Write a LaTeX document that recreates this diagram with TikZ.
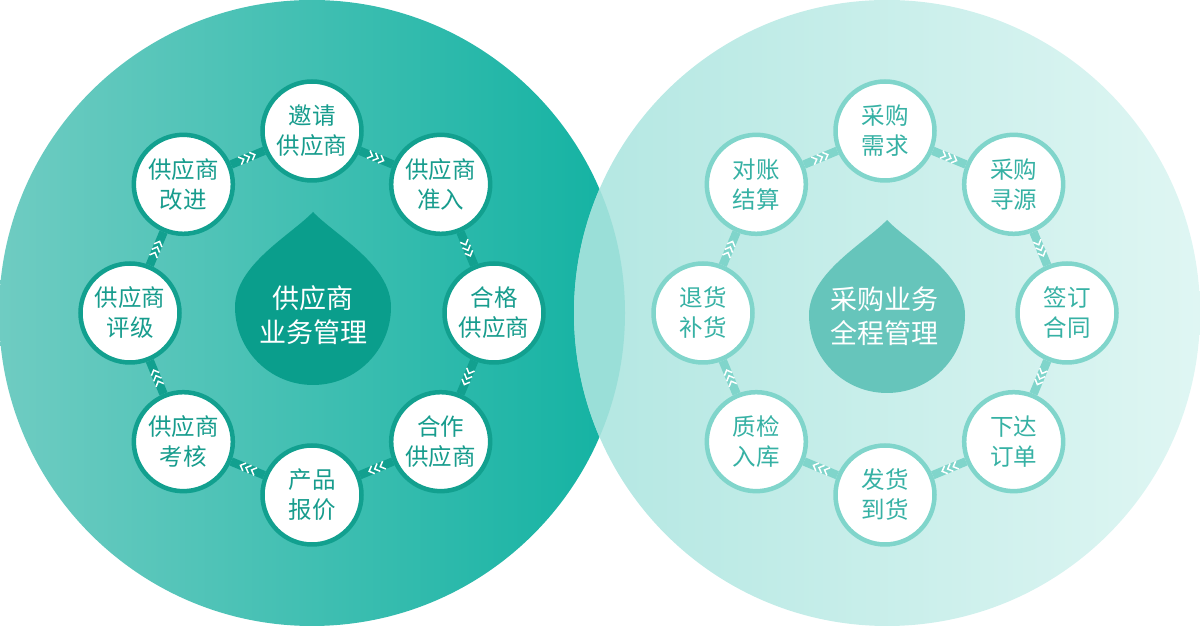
\documentclass[tikz,border=0pt]{standalone}
\usepackage{fontspec}
\usepackage{tikz}
\usetikzlibrary{calc,decorations.markings}
\newfontfamily\cjk{Noto Sans CJK SC}
\definecolor{lbgA}{HTML}{6FCCC2}
\definecolor{lbgB}{HTML}{12B2A2}
\definecolor{rbgA}{HTML}{B3E7E2}
\definecolor{rbgB}{HTML}{DFF6F3}
\definecolor{lens}{HTML}{9ADFD8}
\definecolor{ldrop}{HTML}{0A9E8C}
\definecolor{rdrop}{HTML}{66C5BB}
\definecolor{lline}{HTML}{12A08F}
\definecolor{ltext}{HTML}{179C8D}
\definecolor{rline}{HTML}{80D5CB}
\definecolor{rtext}{HTML}{36B1A4}
\tikzset{
  ring/.style={circle, line width=4.5pt, fill=white, minimum size=99pt,
               inner sep=0pt, align=center, font=\cjk\fontsize{23.5}{30}\selectfont},
  lstep/.style={ring, draw=lline, text=ltext},
  rstep/.style={ring, draw=rline, text=rtext},
  core/.style={align=center, text=white, font=\cjk\fontsize{27}{34}\selectfont},
  chev/.style={draw=white, line width=1.5pt},
  link/.style={line width=8.5pt, postaction={decorate},
               decoration={markings, mark=at position 0.5 with
                 {\foreach \k in {-6,0,6} \draw[chev] (\k-2.5,4.2)--(\k+1.8,0)--(\k-2.5,-4.2);}}},
  llink/.style={link, draw=lline},
  rlink/.style={link, draw=rline}
}
\newcommand{\dropshape}{(0,95) .. controls (22,72) and (78,42) .. (78,0)
  arc[start angle=0, end angle=-180, radius=78] .. controls (-78,42) and (-22,72) .. (0,95) -- cycle}

\begin{document}
\begin{tikzpicture}[x=1pt, y=1pt]
  \useasboundingbox (0,0) rectangle (1200,626);
  % two big discs and their overlap
  \shade[left color=lbgA, right color=lbgB] (312,313) circle[radius=313];
  \shade[left color=rbgA, right color=rbgB] (887,313) circle[radius=313];
  \begin{scope}
    \clip (312,313) circle[radius=313];
    \fill[lens] (887,313) circle[radius=313];
  \end{scope}
  \coordinate (lc) at (312,313);
  \coordinate (rc) at (885,313);
  % drops
  \fill[ldrop, shift={(313,319)}] \dropshape;
  \fill[rdrop, shift={(887,311)}] \dropshape;
  \node[core] (supcore) at (313,311) {供应商\\业务管理};
  \node[core] (purcore) at (884,310) {采购业务\\全程管理};
  % left ring
  \foreach \n/\a/\t in {invite/90/{邀请\\供应商}, admit/45/{供应商\\准入}, qualify/0/{合格\\供应商},
      partner/-45/{合作\\供应商}, quote/-90/{产品\\报价}, assess/-135/{供应商\\考核},
      rate/180/{供应商\\评级}, improve/135/{供应商\\改进}}
    \node[lstep] (\n) at ([shift={(\a:182)}]lc) {\t};
  % right ring
  \foreach \n/\a/\t in {demand/90/{采购\\需求}, source/45/{采购\\寻源}, contract/0/{签订\\合同},
      order/-45/{下达\\订单}, ship/-90/{发货\\到货}, inspect/-135/{质检\\入库},
      refund/180/{退货\\补货}, settle/135/{对账\\结算}}
    \node[rstep] (\n) at ([shift={(\a:182)}]rc) {\t};
  \foreach \a/\b in {invite/admit,admit/qualify,qualify/partner,partner/quote,
      quote/assess,assess/rate,rate/improve,improve/invite} \draw[llink] (\a)--(\b);
  \foreach \a/\b in {demand/source,source/contract,contract/order,order/ship,
      ship/inspect,inspect/refund,refund/settle,settle/demand} \draw[rlink] (\a)--(\b);
\end{tikzpicture}
\end{document}
